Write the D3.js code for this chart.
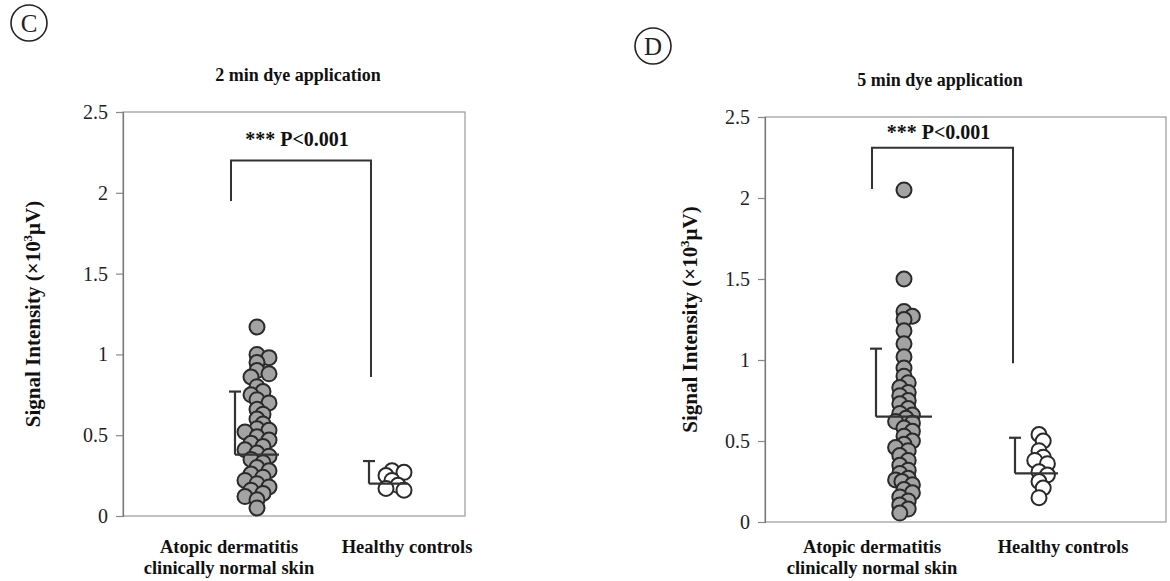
<!DOCTYPE html>
<html><head><meta charset="utf-8">
<script src="https://cdn.jsdelivr.net/npm/d3@7"></script>
<style>
html,body{margin:0;padding:0;background:#fff;}
svg{display:block;}
svg text{font-family:"Liberation Serif","Times New Roman",serif;}
</style></head>
<body>
<svg id="chart" width="1170" height="581"></svg>
<script>
// ---------- data ----------
const categories = ["Atopic dermatitis\nclinically normal skin", "Healthy controls"];
const yTicks = [0, 0.5, 1, 1.5, 2, 2.5];
const yTickLabels = ["0", "0.5", "1", "1.5", "2", "2.5"];

const titleC = "2 min dye application";
const adC = [1.17, 1.00, 0.98, 0.95, 0.90, 0.88, 0.86, 0.80, 0.77, 0.75, 0.72, 0.70, 0.66, 0.63,
             0.60, 0.57, 0.54, 0.53, 0.52, 0.49, 0.47, 0.45, 0.43, 0.41, 0.39, 0.37, 0.35, 0.33,
             0.30, 0.28, 0.26, 0.24, 0.22, 0.20, 0.18, 0.16, 0.14, 0.12, 0.10, 0.05];
const hcC = [0.28, 0.27, 0.25, 0.22, 0.19, 0.17, 0.16];
const meanC = [0.38, 0.20];
const sdTopC = [0.77, 0.34];
const bracketC = {top: 2.2, left: 1.95, right: 0.86, label: 2.33};

const titleD = "5 min dye application";
const adD = [2.05, 1.50, 1.30, 1.27, 1.25, 1.18, 1.10, 1.02, 0.95, 0.90, 0.86, 0.83, 0.80, 0.78,
             0.75, 0.73, 0.70, 0.67, 0.66, 0.64, 0.62, 0.61, 0.58, 0.56, 0.53, 0.50, 0.48, 0.46,
             0.44, 0.41, 0.38, 0.35, 0.32, 0.30, 0.27, 0.26, 0.25, 0.23, 0.20, 0.18, 0.155, 0.13,
             0.105, 0.08, 0.055];
const hcD = [0.54, 0.50, 0.44, 0.40, 0.38, 0.36, 0.31, 0.29, 0.25, 0.21, 0.15];
const meanD = [0.65, 0.30];
const sdTopD = [1.07, 0.52];
const bracketD = {top: 2.31, left: 2.055, right: 0.98, label: 2.41};

const sigLabel = "*** P<0.001";

// ---------- layout ----------
const panels = [
  {letter: "C", title: titleC, groups: [adC, hcC], means: meanC, sdTop: sdTopC, bracket: bracketC,
   x0: 123, x1: 465, yTop: 112, yBot: 516, centers: [231, 371], labelX: [229, 407],
   circle: [29, 23], titleX: 298, titleY: 81, ylabX: 40,
   dotOff: [26, 21], ebOff: [4, -2], meanEnd: [48, 36], catY: 553, spread: 1},
  {letter: "D", title: titleD, groups: [adD, hcD], means: meanD, sdTop: sdTopD, bracket: bracketD,
   x0: 765, x1: 1166, yTop: 117, yBot: 522, centers: [872, 1013], labelX: [872, 1063],
   circle: [653, 46], titleX: 940, titleY: 86, ylabX: 697,
   dotOff: [32, 26], ebOff: [4, 2], meanEnd: [60, 45], catY: 553, spread: 0.7}
];

const svg = d3.select("#chart");
const R = 7.5;

function swarm(values, y, spread) {
  const placed = [];
  const sorted = values.map((v, i) => ({v, i})).sort((a, b) => b.v - a.v);
  const cand = [0, 6, -6, 12, -12, 3, -3, 9, -9].map(c => c * spread);
  sorted.forEach(d => {
    const py = y(d.v);
    let best = 0, bestScore = -1;
    for (const dx of cand) {
      let minD = Infinity;
      placed.forEach(p => { minD = Math.min(minD, Math.hypot(p.dx - dx, p.y - py)); });
      if (minD >= 7.5) { best = dx; bestScore = Infinity; break; }
      if (minD > bestScore) { bestScore = minD; best = dx; }
    }
    placed.push({v: d.v, dx: best, y: py});
  });
  return placed;
}

panels.forEach(p => {
  const g = svg.append("g");
  const y = d3.scaleLinear().domain([0, 2.5]).range([p.yBot, p.yTop]);
  const x = d3.scaleOrdinal().domain(categories).range(p.centers);

  // panel letter
  g.append("circle").attr("cx", p.circle[0]).attr("cy", p.circle[1]).attr("r", 18)
    .attr("fill", "none").attr("stroke", "#222").attr("stroke-width", 1.6);
  g.append("text").attr("x", p.circle[0]).attr("y", p.circle[1] + 9).attr("text-anchor", "middle")
    .attr("font-size", 25).attr("fill", "#222").text(p.letter);

  // title
  g.append("text").attr("x", p.titleX).attr("y", p.titleY).attr("text-anchor", "middle")
    .attr("font-size", 18).attr("font-weight", "bold").attr("fill", "#111").text(p.title);

  // frame
  g.append("rect").attr("x", p.x0).attr("y", p.yTop).attr("width", p.x1 - p.x0).attr("height", p.yBot - p.yTop)
    .attr("fill", "none").attr("stroke", "#9a9a9a").attr("stroke-width", 1.2);

  // y axis
  const ax = g.append("g").attr("transform", `translate(${p.x0},0)`)
    .call(d3.axisLeft(y).tickValues(yTicks).tickFormat((d, i) => yTickLabels[i]).tickSize(7).tickPadding(8));
  ax.select(".domain").attr("stroke", "#777").attr("stroke-width", 1.2);
  ax.selectAll(".tick line").attr("stroke", "#888").attr("stroke-width", 1.2);
  ax.selectAll(".tick text").attr("font-size", 20).attr("fill", "#222")
    .attr("font-family", "'Liberation Serif','Times New Roman',serif");

  // y label
  const yl = g.append("text").attr("transform", `translate(${p.ylabX},${(p.yTop + p.yBot) / 2}) rotate(-90)`)
    .attr("text-anchor", "middle").attr("font-size", 21).attr("font-weight", "bold").attr("fill", "#111");
  yl.append("tspan").text("Signal Intensity (\u00D710");
  yl.append("tspan").attr("font-size", 13).attr("dy", -8).text("3");
  yl.append("tspan").attr("dy", 8).text("\u03BCV)");

  // category labels
  categories.forEach((c, i) => {
    const lines = c.split("\n");
    const t = g.append("text").attr("text-anchor", "middle").attr("font-size", 18.5)
      .attr("font-weight", "bold").attr("fill", "#111");
    lines.forEach((ln, j) => {
      t.append("tspan").attr("x", p.labelX[i]).attr("y", p.catY + j * 21).text(ln);
    });
  });

  // significance bracket
  const b = p.bracket;
  const xl = x(categories[0]), xr = x(categories[1]);
  g.append("path")
    .attr("d", `M${xl},${y(b.left)}V${y(b.top)}H${xr}V${y(b.right)}`)
    .attr("fill", "none").attr("stroke", "#333").attr("stroke-width", 2);
  g.append("text").attr("x", (xl + xr) / 2 - 4).attr("y", y(b.label) + 7).attr("text-anchor", "middle")
    .attr("font-size", 20).attr("font-weight", "bold").attr("fill", "#111").text(sigLabel);

  // groups
  p.groups.forEach((vals, i) => {
    const cx = x(categories[i]);
    const ex = cx + p.ebOff[i];
    g.append("line").attr("x1", ex).attr("x2", ex).attr("y1", y(p.means[i])).attr("y2", y(p.sdTop[i]))
      .attr("stroke", "#333").attr("stroke-width", 2.2);
    g.append("line").attr("x1", ex - 6).attr("x2", ex + 6).attr("y1", y(p.sdTop[i])).attr("y2", y(p.sdTop[i]))
      .attr("stroke", "#333").attr("stroke-width", 2.2);
    const pts = swarm(vals, y, p.spread);
    g.selectAll(null).data(pts).enter().append("circle")
      .attr("cx", d => cx + p.dotOff[i] + d.dx).attr("cy", d => d.y).attr("r", R)
      .attr("fill", i === 0 ? "#a3a3a3" : "#ffffff").attr("stroke", "#2a2a2a").attr("stroke-width", 2);
    g.append("line").attr("x1", ex).attr("x2", cx + p.meanEnd[i]).attr("y1", y(p.means[i])).attr("y2", y(p.means[i]))
      .attr("stroke", "#333").attr("stroke-width", 2.2);
  });
});
</script>
</body></html>
